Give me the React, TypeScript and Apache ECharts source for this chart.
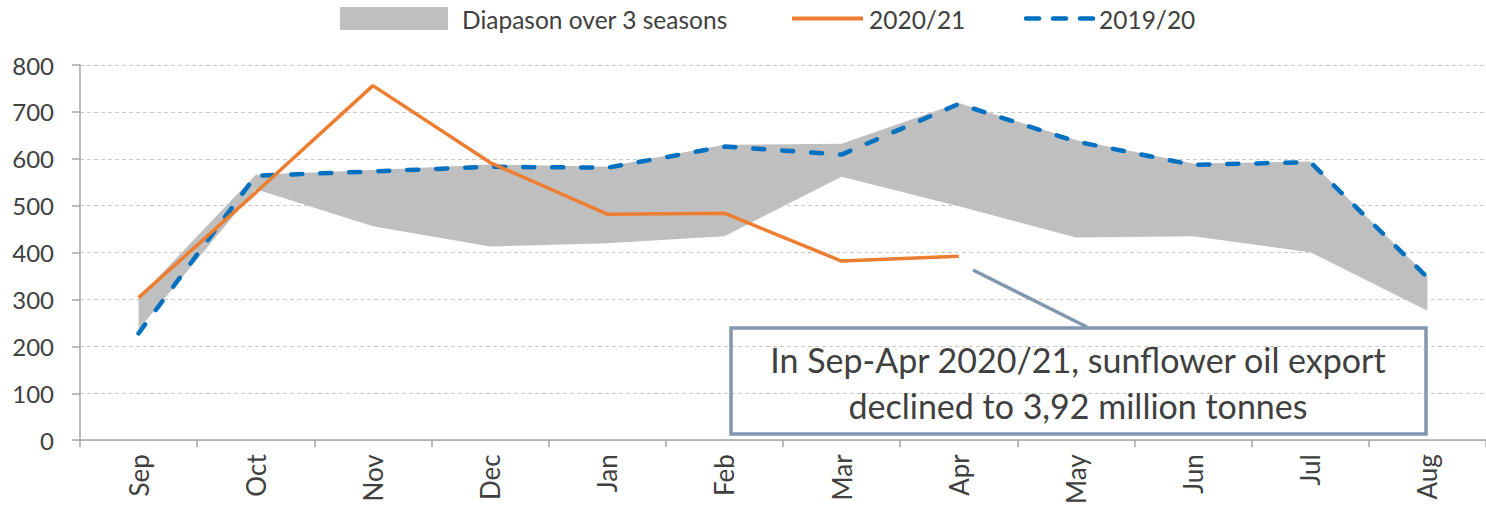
import React, { useEffect, useRef } from "react";
import * as echarts from "echarts";

const months = ["Sep", "Oct", "Nov", "Dec", "Jan", "Feb", "Mar", "Apr", "May", "Jun", "Jul", "Aug"];
const season2021: (number | null)[] = [304, 528, 756, 592, 482, 484, 382, 392, null, null, null, null];
const season1920: number[] = [228, 564, 573, 583, 581, 626, 609, 717, 637, 587, 593, 347];
const bandLow: number[] = [236, 535, 456, 413, 420, 435, 562, 499, 432, 435, 401, 276];
const bandHigh: number[] = [304, 566, 576, 588, 583, 630, 632, 719, 640, 590, 594, 350];
const yTicks = [0, 100, 200, 300, 400, 500, 600, 700, 800];

const legendBand = "Diapason over 3 seasons";
const legend2021 = "2020/21";
const legend1920 = "2019/20";
const noteLines = ["In Sep-Apr 2020/21, sunflower oil export", "declined to 3,92 million tonnes"];

const FONT = "Lato";
const TEXT = "#404040";
const ORANGE = "#ED7D31";
const BLUE = "#0070C0";
const GRAY = "#BFBFBF";
const NOTE = "#8497B0";

export default function App() {
  const ref = useRef<HTMLDivElement>(null);
  useEffect(() => {
    if (!ref.current) return;
    const chart = echarts.init(ref.current, undefined, { renderer: "svg" });
    const bandDiff = bandHigh.map((h, i) => +(h - bandLow[i]).toFixed(1));
    chart.setOption({
      animation: false,
      backgroundColor: "#ffffff",
      textStyle: { fontFamily: FONT },
      grid: { left: 80, right: -14, top: 65, bottom: 65, containLabel: false },
      xAxis: {
        type: "category",
        data: months,
        boundaryGap: true,
        axisLine: { show: true, lineStyle: { color: "#A6A6A6", width: 1.5 } },
        axisTick: { show: true, length: 7, lineStyle: { color: "#A6A6A6", width: 1.5 } },
        axisLabel: { rotate: 90, margin: 14, color: TEXT, fontSize: 26, fontFamily: FONT },
        splitLine: { show: false },
      },
      yAxis: {
        type: "value",
        min: yTicks[0],
        max: yTicks[yTicks.length - 1],
        interval: 100,
        axisLine: { show: true, lineStyle: { color: "#A6A6A6", width: 1.5 } },
        axisTick: { show: true, length: 8, lineStyle: { color: "#A6A6A6", width: 1.5 } },
        axisLabel: { margin: 26, color: TEXT, fontSize: 24, fontFamily: FONT },
        splitLine: { show: true, lineStyle: { color: "#C8C8C8", type: [4, 3], width: 1.2 } },
      },
      series: [
        {
          name: "bandLow",
          type: "line",
          stack: "band",
          data: bandLow,
          symbol: "none",
          lineStyle: { opacity: 0 },
          silent: true,
          z: 1,
        },
        {
          name: legendBand,
          type: "line",
          stack: "band",
          data: bandDiff,
          symbol: "none",
          lineStyle: { opacity: 0 },
          areaStyle: { color: GRAY, opacity: 1 },
          silent: true,
          z: 1,
        },
        {
          name: legend1920,
          type: "line",
          data: season1920,
          symbol: "none",
          lineStyle: { color: BLUE, width: 4.5, type: [11, 18], cap: "round" },
          z: 3,
        },
        {
          name: legend2021,
          type: "line",
          data: season2021,
          symbol: "none",
          connectNulls: false,
          lineStyle: { color: ORANGE, width: 3.5 },
          z: 4,
        },
      ],
      graphic: [
        { type: "rect", shape: { x: 340, y: 7, width: 108, height: 23 }, style: { fill: GRAY } },
        {
          type: "text",
          x: 462,
          y: 19,
          style: { text: legendBand, fill: TEXT, font: `24.5px ${FONT}`, verticalAlign: "middle", align: "left" },
        },
        { type: "line", shape: { x1: 792, y1: 18.5, x2: 863, y2: 18.5 }, style: { stroke: ORANGE, lineWidth: 4 } },
        {
          type: "text",
          x: 869,
          y: 19,
          style: { text: legend2021, fill: TEXT, font: `24.5px ${FONT}`, verticalAlign: "middle", align: "left" },
        },
        {
          type: "line",
          shape: { x1: 1026, y1: 18.5, x2: 1094, y2: 18.5 },
          style: { stroke: BLUE, lineWidth: 4.5, lineDash: [13, 14], lineCap: "round" },
        },
        {
          type: "text",
          x: 1099,
          y: 19,
          style: { text: legend1920, fill: TEXT, font: `24.5px ${FONT}`, verticalAlign: "middle", align: "left" },
        },
        {
          type: "line",
          shape: { x1: 973, y1: 270, x2: 1087, y2: 327 },
          style: { stroke: NOTE, lineWidth: 3.5 },
          z: 10,
        },
        {
          type: "rect",
          shape: { x: 731, y: 328, width: 695, height: 106 },
          style: { fill: "transparent", stroke: NOTE, lineWidth: 3.5 },
          z: 10,
        },
        {
          type: "text",
          x: 1078,
          y: 382,
          style: {
            text: noteLines.join("\n"),
            fill: TEXT,
            font: `34px ${FONT}`,
            align: "center",
            verticalAlign: "middle",
            lineHeight: 46,
          },
          z: 10,
        },
      ],
    });
    return () => chart.dispose();
  }, []);
  return (
    <div
      ref={ref}
      style={{ position: "fixed", left: 0, top: 0, width: 1486, height: 507, background: "#fff" }}
    />
  );
}
